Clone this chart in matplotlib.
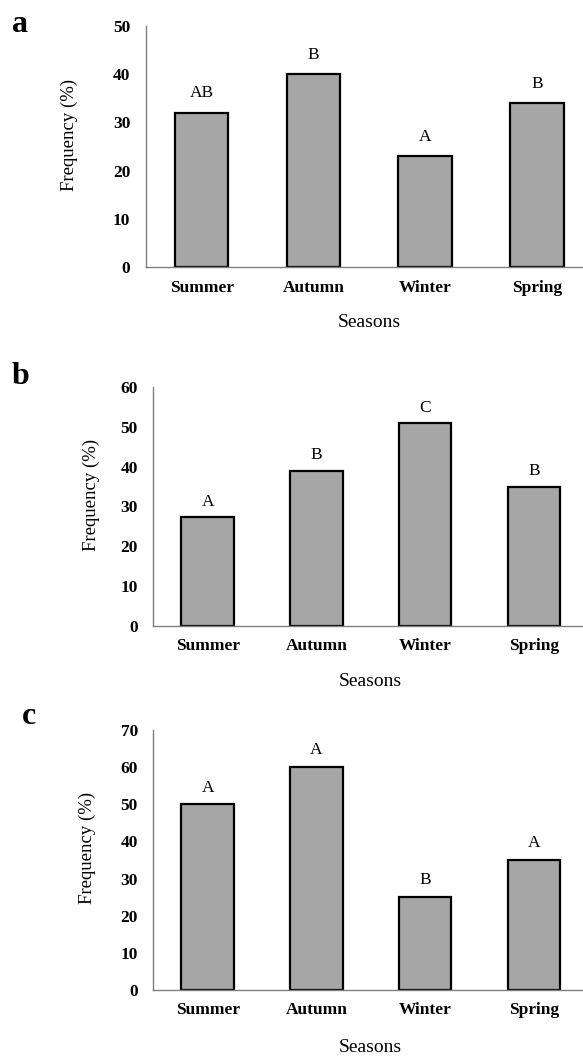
import matplotlib

matplotlib.use("Agg")
import matplotlib.pyplot as plt

seasons = ["Summer", "Autumn", "Winter", "Spring"]

freq_a = [32, 40, 23, 34]
letters_a = ["AB", "B", "A", "B"]
freq_b = [27.3, 39, 51, 35]
letters_b = ["A", "B", "C", "B"]
freq_c = [50, 60, 25, 35]
letters_c = ["A", "A", "B", "A"]

y_max = [50, 60, 70]

W, H = 583, 1058
BAR_FILL = "#a6a6a6"
SPINE = "#808080"

plt.rcParams["font.family"] = ["Liberation Serif", "DejaVu Serif"]

fig = plt.figure(figsize=(W / 100, H / 100), dpi=100)


def add_panel(left, top, bottom, unit, ymax, values, letters, tag, label_off, ylab_x, xlab_y):
    # pixel box -> figure fraction; axes runs 4 categories wide, past the right edge
    right = left + 4 * unit
    ax = fig.add_axes([left / W, 1 - bottom / H, (right - left) / W, (bottom - top) / H])
    pos = list(range(len(seasons)))
    bars = ax.bar(pos, values, width=0.48, color=BAR_FILL, edgecolor="black", linewidth=1.6)
    for bar, txt in zip(bars, letters):
        ax.annotate(
            txt,
            xy=(bar.get_x() + bar.get_width() / 2, bar.get_height()),
            xytext=(0, label_off),
            textcoords="offset points",
            ha="center",
            va="center",
            fontsize=12.5,
        )
    ax.set_xlim(-0.5, 3.5)
    ax.set_ylim(0, ymax)
    ax.set_yticks(range(0, ymax + 1, 10))
    ax.set_xticks(pos, seasons)
    ax.tick_params(axis="both", length=0, labelsize=12.5)
    ax.tick_params(axis="y", pad=11)
    ax.tick_params(axis="x", pad=9)
    for lab in ax.get_xticklabels() + ax.get_yticklabels():
        lab.set_fontweight("bold")
    for side in ("top", "right"):
        ax.spines[side].set_visible(False)
    for side in ("left", "bottom"):
        ax.spines[side].set_color(SPINE)
        ax.spines[side].set_linewidth(1.0)
    ax.set_ylabel("Frequency (%)", fontsize=13.5)
    ax.yaxis.set_label_coords(ylab_x / W, 1 - ((top + bottom) / 2 - 12) / H, transform=fig.transFigure)
    fig.text(0.5 * (left + min(right, W + 10)) / W, 1 - xlab_y / H, "Seasons",
             ha="center", va="center", fontsize=14)
    fig.text(tag[0] / W, 1 - tag[1] / H, tag[2], ha="left", va="center",
             fontsize=23, fontweight="bold")
    return ax


add_panel(145.7, 26, 267, 111.8, y_max[0], freq_a, letters_a, (12, 24, "a"), 14, 78, 323)
add_panel(153.2, 387, 626, 108.8, y_max[1], freq_b, letters_b, (12, 376, "b"), 11, 100, 682)
add_panel(153.2, 730, 990, 108.8, y_max[2], freq_c, letters_c, (22, 716, "c"), 12, 96, 1048)

fig.savefig("out.png", dpi=100)
